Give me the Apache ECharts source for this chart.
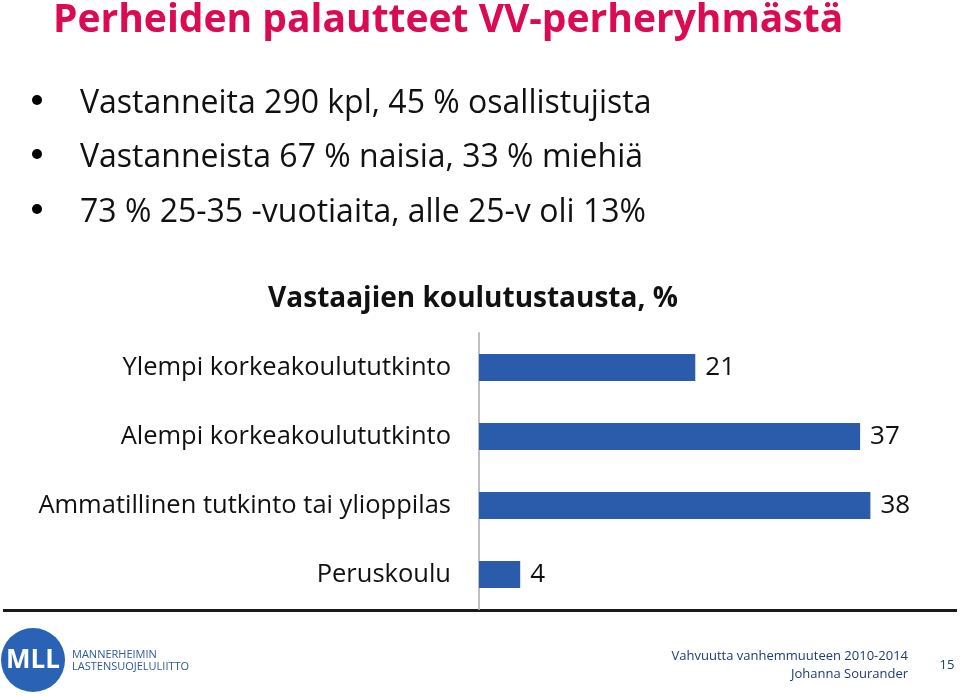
<!DOCTYPE html>
<html>
<head>
<meta charset="utf-8">
<script src="https://cdn.jsdelivr.net/npm/echarts@6/dist/echarts.min.js"></script>
<style>
html,body{margin:0;padding:0;background:#fff;}
#chart{width:960px;height:696px;}
</style>
</head>
<body>
<div id="chart"></div>
<script>
const pageTitle = 'Perheiden palautteet VV-perheryhmästä';
const bullets = [
  'Vastanneita 290 kpl, 45 % osallistujista',
  'Vastanneista 67 % naisia, 33 % miehiä',
  '73 % 25-35 -vuotiaita, alle 25-v oli 13%'
];
const chartTitle = 'Vastaajien koulutustausta, %';
const categories = [
  'Ylempi korkeakoulututkinto',
  'Alempi korkeakoulututkinto',
  'Ammatillinen tutkinto tai ylioppilas',
  'Peruskoulu'
];
const values = [21, 37, 38, 4];
const footerLines = ['Vahvuutta vanhemmuuteen 2010-2014', 'Johanna Sourander'];
const pageNumber = '15';

const FONT = '"Open Sans", sans-serif';
const chart = echarts.init(document.getElementById('chart'), null, {renderer: 'canvas'});

const bulletY = [104, 158, 213];
const graphics = [];
graphics.push({
  type: 'text', x: 53, y: 21,
  style: {text: pageTitle, font: 'bold 39px ' + FONT, fill: '#DC0A52', textVerticalAlign: 'middle'}
});
bullets.forEach((b, i) => {
  graphics.push({type: 'circle', shape: {cx: 37, cy: bulletY[i] - 4, r: 5}, style: {fill: '#000'}});
  graphics.push({
    type: 'text', x: 80, y: bulletY[i],
    style: {text: b, font: '32px ' + FONT, fill: '#111', textVerticalAlign: 'middle'}
  });
});
graphics.push({type: 'rect', shape: {x: 3, y: 609, width: 954, height: 3}, style: {fill: '#1a1a1a'}});
graphics.push({type: 'circle', shape: {cx: 33, cy: 660, r: 32}, style: {fill: '#2A62B5'}});
graphics.push({type: 'text', x: 33, y: 661, style: {text: 'MLL', font: 'bold 26px ' + FONT, fill: '#fff', textAlign: 'center', textVerticalAlign: 'middle'}});
graphics.push({type: 'text', x: 72, y: 655, style: {text: 'MANNERHEIMIN', font: '11px ' + FONT, fill: '#2A5AA0', textVerticalAlign: 'middle'}});
graphics.push({type: 'text', x: 72, y: 667, style: {text: 'LASTENSUOJELULIITTO', font: '11px ' + FONT, fill: '#2A5AA0', textVerticalAlign: 'middle'}});
graphics.push({type: 'text', x: 908, y: 656, style: {text: footerLines[0], font: '13px ' + FONT, fill: '#1F3B73', textAlign: 'right', textVerticalAlign: 'middle'}});
graphics.push({type: 'text', x: 908, y: 674, style: {text: footerLines[1], font: '13px ' + FONT, fill: '#1F3B73', textAlign: 'right', textVerticalAlign: 'middle'}});
graphics.push({type: 'text', x: 947, y: 665, style: {text: pageNumber, font: '13px ' + FONT, fill: '#1F3B73', textAlign: 'center', textVerticalAlign: 'middle'}});

chart.setOption({
  animation: false,
  title: {
    text: chartTitle, left: 468, top: 280, textAlign: 'center',
    textStyle: {fontFamily: FONT, fontWeight: 'bold', fontSize: 28, color: '#111'}
  },
  grid: {left: 479, top: 333, width: 412, height: 276, containLabel: false},
  xAxis: {
    type: 'value', min: 0, max: 40, show: false
  },
  yAxis: {
    type: 'category', data: categories, inverse: true,
    axisLine: {show: true, lineStyle: {color: '#BFBFBF', width: 2}},
    axisTick: {show: false},
    axisLabel: {fontFamily: FONT, fontSize: 25.5, color: '#111', margin: 28}
  },
  series: [{
    type: 'bar', data: values, barWidth: 27,
    itemStyle: {color: '#2A5CAB'},
    label: {show: true, position: 'right', distance: 10, fontFamily: FONT, fontSize: 26, color: '#111'}
  }],
  graphic: graphics
});
</script>
</body>
</html>
